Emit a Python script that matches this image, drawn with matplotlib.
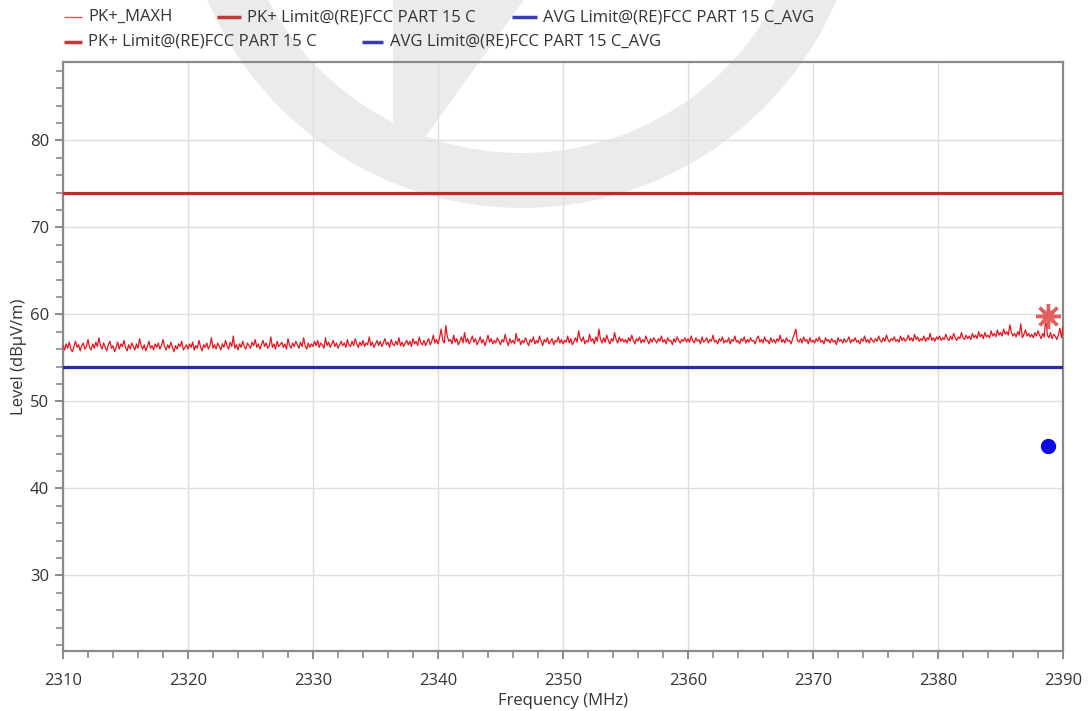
import numpy as np
import matplotlib
matplotlib.use("Agg")
import matplotlib.pyplot as plt
from matplotlib.patches import Wedge, Polygon
from matplotlib.ticker import MultipleLocator

plt.rcParams['font.family'] = ['Open Sans', 'DejaVu Sans']

# ---------------- data ----------------
freq_start, freq_stop = 2310, 2390
pk_maxh = [
    56.4, 55.9, 56.6, 56.1, 56.8, 56.0, 55.7, 56.3, 56.9, 56.2, 56.5, 55.8, 56.4, 56.7, 56.0, 56.3, 57.1, 56.2, 55.9, 56.6,
    56.1, 56.8, 56.3, 57.3, 56.4, 56.0, 56.7, 56.2, 55.8, 56.5, 56.9, 56.1, 56.4, 55.7, 56.2, 56.8, 56.0, 56.6, 56.3, 57.0,
    56.2, 55.8, 56.5, 56.0, 56.7, 56.3, 55.9, 56.6, 56.1, 57.2, 56.4, 56.0, 56.5, 55.8, 56.3, 56.9, 56.1, 56.4, 55.9, 56.6,
    56.2, 56.7, 56.0, 56.4, 57.1, 56.3, 55.9, 56.5, 56.1, 56.8, 56.2, 55.7, 56.4, 56.0, 56.6, 56.3, 56.9, 55.9, 56.2, 56.5,
    56.0, 56.6, 56.2, 56.8, 55.9, 56.4, 56.1, 57.0, 56.3, 55.8, 56.5, 56.2, 56.7, 56.0, 56.4, 57.3, 56.1, 56.5, 56.0, 56.7,
    56.3, 55.9, 56.6, 56.2, 57.0, 56.4, 56.0, 56.8, 56.3, 57.5, 56.1, 56.5, 55.9, 56.6, 56.2, 56.9, 56.3, 56.0, 56.7, 56.4,
    56.1, 56.8, 56.4, 57.1, 56.2, 56.6, 56.0, 56.5, 57.0, 56.3, 56.7, 56.1, 56.4, 57.4, 56.2, 56.6, 56.0, 56.9, 56.3, 56.5,
    56.8, 56.2, 56.6, 56.0, 57.2, 56.4, 56.1, 56.7, 56.3, 56.9, 56.5, 56.1, 56.8, 56.3, 57.3, 56.4, 56.0, 56.7, 56.2, 56.6,
    56.3, 56.9, 56.4, 57.0, 56.2, 56.7, 56.5, 56.1, 57.3, 56.4, 56.8, 56.2, 56.6, 57.0, 56.3, 56.7, 56.1, 56.5, 56.9, 56.4,
    56.7, 56.2, 57.1, 56.5, 56.3, 56.9, 56.4, 57.2, 56.6, 56.2, 56.8, 56.4, 57.0, 56.3, 56.7, 56.5, 57.4, 56.4, 56.8, 56.2,
    56.6, 57.0, 56.4, 56.9, 56.3, 56.7, 57.2, 56.5, 56.8, 56.2, 57.1, 56.6, 56.4, 56.9, 56.5, 57.3, 56.4, 56.8, 56.3, 56.7,
    57.0, 56.5, 56.9, 56.3, 57.2, 56.6, 56.9, 56.4, 57.4, 56.7, 56.5, 57.0, 56.4, 56.8, 57.2, 56.5, 56.9, 57.6, 56.7, 57.1,
    56.6, 57.3, 58.3, 57.0, 56.7, 58.7, 57.4, 56.9, 57.1, 56.6, 57.6, 56.8, 57.2, 56.5, 56.9, 57.4, 56.7, 57.9, 56.8, 57.2,
    56.6, 57.0, 57.5, 56.8, 57.2, 56.5, 56.9, 57.4, 56.7, 57.1, 56.4, 56.9, 57.6, 56.8, 57.2, 56.6, 57.0, 56.7, 57.3, 56.9,
    56.5, 57.1, 56.8, 57.7, 56.9, 56.4, 57.2, 56.7, 57.0, 56.6, 57.8, 56.9, 57.2, 56.5, 57.0, 56.7, 57.3, 56.8, 56.4, 57.1,
    56.8, 57.4, 56.6, 57.0, 56.7, 57.5, 56.9, 56.4, 57.1, 56.8, 57.3, 56.6, 56.9, 57.2, 56.5, 57.0, 56.8, 57.4, 56.7, 57.1,
    56.6, 57.0, 56.8, 57.5, 56.7, 57.2, 56.5, 56.9, 57.3, 56.8, 58.1, 57.2, 56.9, 57.4, 56.6, 57.0, 56.8, 57.7, 56.9, 57.2,
    56.6, 57.4, 56.9, 58.3, 57.1, 56.7, 57.3, 56.8, 57.6, 57.0, 56.6, 57.2, 56.9, 57.9, 57.1, 56.7, 57.4, 56.9, 57.2, 56.8,
    57.1, 56.7, 57.3, 56.9, 57.6, 57.0, 56.6, 57.2, 56.9, 57.4, 56.7, 57.1, 56.8, 57.5, 57.0, 56.6, 57.2, 56.8, 57.3, 57.0,
    56.7, 57.2, 56.9, 57.5, 56.8, 57.1, 56.6, 57.3, 56.9, 57.0, 56.5, 57.2, 56.8, 57.4, 57.0, 56.7, 57.1, 56.9, 57.3, 56.8,
    57.2, 56.8, 57.5, 57.0, 56.7, 57.3, 56.9, 57.1, 56.6, 57.4, 56.8, 57.0, 57.3, 56.7, 57.1, 56.9, 57.6, 56.8, 57.0, 56.6,
    57.2, 56.9, 57.4, 56.7, 57.0, 56.8, 57.3, 56.6, 57.1, 56.9, 57.5, 56.8, 57.0, 56.6, 57.2, 56.9, 57.4, 56.7, 57.1, 56.8,
    57.3, 56.9, 57.0, 56.6, 57.2, 57.5, 56.8, 57.1, 56.7, 57.4, 56.9, 57.0, 56.6, 57.3, 56.8, 57.1, 56.7, 57.2, 56.9, 57.6,
    56.8, 57.1, 56.7, 57.3, 56.9, 57.0, 56.6, 57.2, 57.7, 58.3, 57.0, 56.8, 57.2, 56.7, 57.4, 56.9, 57.1, 56.6, 57.3, 56.8,
    57.0, 56.7, 57.2, 56.9, 57.4, 56.8, 57.0, 56.6, 57.3, 56.9, 57.1, 56.7, 57.2, 56.8, 57.0, 56.5, 57.3, 56.9, 57.1, 56.7,
    57.2, 56.8, 57.0, 57.4, 56.7, 57.1, 56.9, 57.3, 56.8, 57.0, 56.6, 57.2, 56.9, 57.5, 56.8, 57.1, 56.7, 57.3, 57.0, 56.8,
    57.2, 56.9, 57.5, 57.0, 56.8, 57.3, 56.9, 57.6, 57.1, 56.8, 57.2, 57.0, 57.4, 56.9, 57.1, 56.8, 57.5, 57.0, 57.3, 56.9,
    57.1, 57.6, 57.0, 57.3, 56.9, 57.7, 57.1, 57.4, 56.9, 57.2, 57.0, 57.5, 56.9, 57.3, 57.1, 57.8, 57.0, 57.3, 56.9, 57.4,
    57.1, 57.5, 57.0, 57.3, 57.1, 57.7, 57.2, 57.0, 57.5, 57.1, 57.8, 57.3, 57.0, 57.4, 57.2, 57.9, 57.3, 57.1, 57.6, 57.2,
    57.5, 57.1, 57.8, 57.3, 57.6, 57.2, 58.0, 57.4, 57.7, 57.2, 57.9, 57.4, 57.6, 57.3, 58.1, 57.5, 57.8, 57.4, 58.2, 57.6,
    57.9, 57.5, 58.3, 57.7, 58.0, 57.6, 58.8, 57.9, 57.5, 57.8, 57.4, 58.0, 57.6, 58.9, 57.3, 57.7, 58.2, 57.5, 57.8, 57.4,
    57.7, 57.3, 57.9, 57.5, 58.1, 57.6, 57.2, 57.8, 57.4, 59.7, 57.6, 57.3, 57.9, 57.2, 57.7, 57.5, 57.1, 57.6, 58.4, 57.3,
    58.6,
]
pk_limit = 74.0
avg_limit = 54.0
peak_marker_freq = [2388.8]
peak_marker_level = [59.8]
avg_marker_freq = [2388.8]
avg_marker_level = [44.9]

legend_row1 = ["PK+_MAXH", "PK+ Limit@(RE)FCC PART 15 C", "AVG Limit@(RE)FCC PART 15 C_AVG"]
legend_row2 = ["PK+ Limit@(RE)FCC PART 15 C", "AVG Limit@(RE)FCC PART 15 C_AVG"]

x_ticks = [2310, 2320, 2330, 2340, 2350, 2360, 2370, 2380, 2390]
y_ticks = [30, 40, 50, 60, 70, 80]

# ---------------- figure ----------------
W, H = 1088, 711
fig = plt.figure(figsize=(W / 100, H / 100), dpi=100)
fig.patch.set_facecolor('white')

# background overlay (pixel coordinates)
bg = fig.add_axes([0, 0, 1, 1], zorder=0)
bg.set_xlim(0, W)
bg.set_ylim(H, 0)
bg.axis('off')
wm = '#ebebeb'
bg.add_patch(Wedge((522, -134), 342, 0, 360, width=55, facecolor=wm, edgecolor='none'))
bg.add_patch(Polygon([(393, 0), (524, 0), (410, 158), (393, 158)], closed=True,
                     facecolor=wm, edgecolor='none'))

# legend (manual, two rows)
leg_fs = 12
tc = '#333333'
rows = [
    (17, [(64, 82, 88, legend_row1[0], '#c85a5a', 1.0),
          (217, 241, 247, legend_row1[1], '#c0393b', 2.5),
          (512, 537, 543, legend_row1[2], '#3b3bb0', 2.5)]),
    (42, [(64, 82, 88, legend_row2[0], '#c0393b', 2.5),
          (362, 383, 390, legend_row2[1], '#3b3bb0', 2.5)]),
]
for yy, items in rows:
    for x0, x1, xt, label, col, lw in items:
        bg.plot([x0, x1], [yy, yy], color=col, lw=lw, solid_capstyle='butt')
        bg.text(xt, yy, label, fontsize=leg_fs, color=tc, va='center', ha='left')

# main axes
left, right, top, bottom = 63, 1063, 62, 651
ax = fig.add_axes([left / W, 1 - bottom / H, (right - left) / W, (bottom - top) / H], zorder=1)
ax.set_facecolor('none')

x = np.linspace(freq_start, freq_stop, len(pk_maxh))
ax.axhline(pk_limit, color='#c0282e', lw=2.3, zorder=3)
ax.axhline(avg_limit, color='#2a2aa8', lw=2.3, zorder=3)
ax.plot(x, pk_maxh, color='#e8141e', lw=0.9, zorder=4)

ax.plot(peak_marker_freq, peak_marker_level, 'o', ms=9, color='#f0a0a0', zorder=5)
ax.plot(peak_marker_freq, peak_marker_level, marker=(8, 2, 0), ms=18, mew=2.4,
        color='#e06060', ls='none', zorder=6)
ax.plot(avg_marker_freq, avg_marker_level, 'o', ms=10, color='#0a0ae6', zorder=6)

ax.set_xlim(freq_start, freq_stop)
ax.set_ylim(21.3, 89.0)
ax.set_xticks(x_ticks)
ax.set_yticks(y_ticks)
ax.xaxis.set_minor_locator(MultipleLocator(2))
ax.yaxis.set_minor_locator(MultipleLocator(2))
ax.grid(True, which='major', color='#dedede', lw=1.0, zorder=1)
ax.set_axisbelow(True)

sc = '#8a8a8a'
for s in ax.spines.values():
    s.set_color(sc)
    s.set_linewidth(1.6)
ax.tick_params(which='major', direction='out', length=6, width=1.4, color=sc,
               labelsize=12, labelcolor='#333333')
ax.tick_params(axis='x', which='major', pad=9.5)
ax.tick_params(axis='y', which='major', pad=4)
ax.tick_params(which='minor', direction='out', length=5, width=1.2, color=sc)

ax.set_xlabel('Frequency (MHz)', fontsize=12, color='#333333', labelpad=3)
ax.set_ylabel('Level (dBµV/m)', fontsize=12, color='#333333', labelpad=2)

fig.savefig('out.png', dpi=100)
